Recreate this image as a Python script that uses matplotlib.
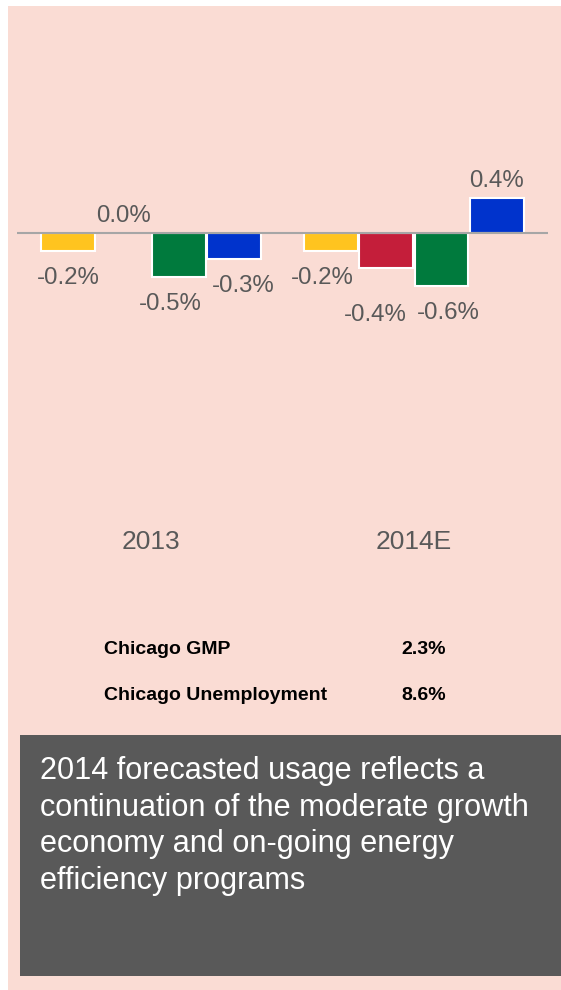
import matplotlib.pyplot as plt
import matplotlib.patches as patches
import numpy as np

# usage change by year, one bar per series
years = ["2013", "2014E"]
series_colors = ["#FFC41F", "#C41E3A", "#007A3D", "#0033CC"]
vals_2013 = [-0.2, 0.0, -0.5, -0.3]
vals_2014 = [-0.2, -0.4, -0.6, 0.4]
values = [vals_2013, vals_2014]

stat_names = ["Chicago GMP", "Chicago Unemployment"]
stat_values = ["2.3%", "8.6%"]

note = ("2014 forecasted usage reflects a\n"
        "continuation of the moderate growth\n"
        "economy and on-going energy\n"
        "efficiency programs")

# small label shifts (points) so neighbouring labels don't collide
nudge_x = [[0, 0, -6, 6.5], [-6.5, -8, 5, 0]]
nudge_y = [[0, 0, 0, 0], [0, -14, 0, 0]]

W, H = 561, 990
fig = plt.figure(figsize=(W/100, H/100), dpi=100)
fig.patch.set_facecolor("white")

def fx(px):
    return px / W

def fy(py):
    return 1 - py / H

# pink panel behind everything
fig.patches.append(patches.Rectangle((fx(8), fy(990)), fx(561-8), (990-6)/H,
                                     transform=fig.transFigure, facecolor="#FADCD4",
                                     edgecolor="none", zorder=-5))

# bar axes: pixels x 17..548, y 150..525
ax = fig.add_axes([fx(17), fy(525), fx(548-17), (525-150)/H])
ax.set_zorder(5)
ax.set_facecolor("none")
ppu = 88.0
ax.set_xlim(-0.51, 1.51)
ax.set_ylim(-(525-233)/ppu, (233-150)/ppu)

bw = 0.205
offsets = (np.arange(4) - 1.5) * 0.21
for gi, vals in enumerate(values):
    for si, v in enumerate(vals):
        x = gi + offsets[si]
        if v != 0:
            ax.bar(x, v, width=bw, color=series_colors[si], edgecolor="white",
                   linewidth=1.5, zorder=2)
        dy = -19.5 if v < 0 else 12
        ax.annotate(f"{v:.1f}%", (x, v),
                    xytext=(nudge_x[gi][si], dy + nudge_y[gi][si]),
                    textcoords="offset points",
                    ha="center", va="center", fontsize=17.3, color="#595959",
                    family="Liberation Sans")

ax.axhline(0, color="#A6A6A6", linewidth=1.5, zorder=3)
for s in ax.spines.values():
    s.set_visible(False)
ax.set_yticks([])
ax.set_xticks(range(len(years)))
ax.set_xticklabels(years, fontsize=19, color="#595959", family="Liberation Sans")
ax.tick_params(axis="x", length=0, pad=3.5)

# economic indicators
for i, (name, val) in enumerate(zip(stat_names, stat_values)):
    y = fy(650 + i * 45)
    fig.text(fx(104), y, name, fontsize=14, fontweight="bold", color="black",
             family="Liberation Sans", ha="left", va="center")
    fig.text(fx(401), y, val, fontsize=14, fontweight="bold", color="black",
             family="Liberation Sans", ha="left", va="center")

# grey note box
fig.patches.append(patches.Rectangle((fx(20), fy(976)), fx(561-20), (976-735)/H,
                                     transform=fig.transFigure, facecolor="#595959",
                                     edgecolor="none", zorder=1))
fig.text(fx(40), fy(756), note, fontsize=22.1, color="white", family="Liberation Sans",
         ha="left", va="top", linespacing=1.285, zorder=2)

fig.savefig("out.png", dpi=100)
